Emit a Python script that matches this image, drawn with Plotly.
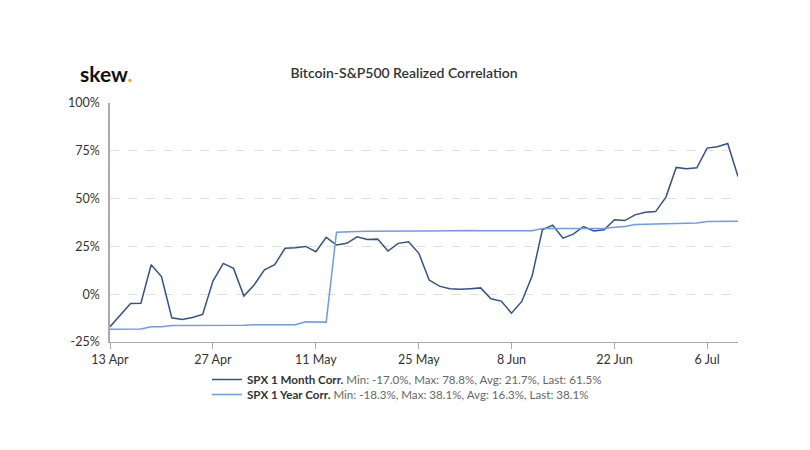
import plotly.graph_objects as go

dates = [
    "2020-04-13","2020-04-14","2020-04-15","2020-04-16","2020-04-17",
    "2020-04-20","2020-04-21","2020-04-22","2020-04-23","2020-04-24",
    "2020-04-27","2020-04-28","2020-04-29","2020-04-30","2020-05-01",
    "2020-05-04","2020-05-05","2020-05-06","2020-05-07","2020-05-08",
    "2020-05-11","2020-05-12","2020-05-13","2020-05-14","2020-05-15",
    "2020-05-18","2020-05-19","2020-05-20","2020-05-21","2020-05-22",
    "2020-05-26","2020-05-27","2020-05-28","2020-05-29",
    "2020-06-01","2020-06-02","2020-06-03","2020-06-04","2020-06-05",
    "2020-06-08","2020-06-09","2020-06-10","2020-06-11","2020-06-12",
    "2020-06-15","2020-06-16","2020-06-17","2020-06-18","2020-06-19",
    "2020-06-22","2020-06-23","2020-06-24","2020-06-25","2020-06-26",
    "2020-06-29","2020-06-30","2020-07-01","2020-07-02",
    "2020-07-06","2020-07-07","2020-07-08","2020-07-09",
]

month_corr = [
    -17.0, -11.0, -4.9, -4.7, 15.4, 9.2, -12.3, -13.2, -12.2, -10.6,
    6.9, 16.1, 13.5, -1.0, 4.8, 12.8, 15.4, 24.0, 24.3, 25.0,
    22.2, 29.7, 25.7, 26.6, 30.0, 28.6, 28.8, 22.6, 26.6, 27.4,
    21.4, 7.4, 4.2, 2.8, 2.6, 2.9, 3.3, -2.4, -3.6, -9.9,
    -3.8, 9.5, 33.7, 36.1, 29.3, 31.4, 35.4, 33.1, 33.7, 38.9,
    38.5, 41.5, 42.9, 43.2, 50.8, 66.3, 65.6, 66.1, 76.4, 77.1,
    78.8, 61.5,
]

year_corr = [
    -18.3, -18.3, -18.2, -18.2, -17.0, -17.0, -16.4, -16.4, -16.4, -16.1,
    -16.1, -16.1, -16.1, -16.3, -16.0, -16.0, -16.0, -16.0, -16.0, -14.4,
    -14.6, -14.6, 32.4, 32.7, 32.8, 32.9, 33.0, 33.0, 33.1, 33.1,
    33.1, 33.1, 33.2, 33.3, 33.5, 33.3, 33.2, 33.2, 33.1, 33.1,
    33.1, 33.2, 34.4, 34.4, 34.4, 34.4, 34.4, 34.4, 34.4, 35.0,
    35.4, 36.5, 36.6, 36.8, 36.9, 37.1, 37.2, 37.3, 38.0, 38.0,
    38.1, 38.1,
]

tick_vals = ["2020-04-13", "2020-04-27", "2020-05-11", "2020-05-26",
             "2020-06-08", "2020-06-22", "2020-07-06"]
tick_text = ["13 Apr", "27 Apr", "11 May", "25 May", "8 Jun", "22 Jun", "6 Jul"]

y_ticks = [-25, 0, 25, 50, 75, 100]
y_tick_text = ["-25%", "0%", "25%", "50%", "75%", "100%"]

legend_month = "<b>SPX 1 Month Corr.</b> <span style='color:#666666'>Min: -17.0%, Max: 78.8%, Avg: 21.7%, Last: 61.5%</span>"
legend_year = "<b>SPX 1 Year Corr.</b> <span style='color:#666666'>Min: -18.3%, Max: 38.1%, Avg: 16.3%, Last: 38.1%</span>"

fig = go.Figure()
fig.add_trace(go.Scatter(
    x=dates, y=month_corr, mode="lines", name=legend_month,
    line=dict(color="#34508f", width=1.5), legend="legend",
))
fig.add_trace(go.Scatter(
    x=dates, y=year_corr, mode="lines", name=legend_year,
    line=dict(color="#6c9bef", width=1.5), legend="legend2",
))

PLOT_TOP, PLOT_BOTTOM, PLOT_LEFT, PLOT_RIGHT = 103, 342, 110, 738
H = PLOT_BOTTOM - PLOT_TOP
W = PLOT_RIGHT - PLOT_LEFT

legend_common = dict(xanchor="left", yanchor="top", orientation="v",
                     font=dict(size=11.6, color="#333333"),
                     bgcolor="rgba(0,0,0,0)", tracegroupgap=0, itemwidth=30)

fig.update_layout(
    width=810, height=450,
    margin=dict(l=102, r=80, t=95, b=116),
    paper_bgcolor="white", plot_bgcolor="white",
    font=dict(family="Lato, 'Open Sans', sans-serif", size=12, color="#333333"),
    title=dict(text="Bitcoin-S&P500 Realized Correlation", x=(404 - 8) / 810, xref="container",
               xanchor="center", y=1 - (73 - 8) / 450, yref="container", yanchor="middle",
               font=dict(family="Lato, sans-serif", size=14, color="#333333", weight=600)),
    showlegend=True,
    legend=dict(x=(207 - PLOT_LEFT) / W, y=-(365 - PLOT_BOTTOM) / H, **legend_common),
    legend2=dict(x=(207 - PLOT_LEFT) / W, y=-(380 - PLOT_BOTTOM) / H, **legend_common),
    annotations=[
        dict(text="skew<span style='color:#f5a623'>.</span>", xref="x domain", yref="y domain",
             x=(78 - PLOT_LEFT) / W, y=(PLOT_BOTTOM - 73) / H, xanchor="left", yanchor="middle",
             showarrow=False,
             font=dict(family="Lato, sans-serif", size=21, color="#111111", weight=700)),
    ],
)

fig.update_xaxes(
    type="category", tickvals=tick_vals, ticktext=tick_text,
    range=[0, len(dates) - 1],
    showline=True, linecolor="#aaaaaa", linewidth=1,
    ticks="outside", ticklen=6, tickcolor="#aaaaaa",
    showgrid=False, zeroline=False,
    tickfont=dict(size=12.5, color="#333333"),
)
fig.update_yaxes(
    range=[-25, 100], tickmode="array", tickvals=y_ticks, ticktext=y_tick_text,
    showline=True, linecolor="#aaaaaa", linewidth=1.5,
    showgrid=True, gridcolor="#e0e0e0", griddash="dash", gridwidth=1,
    zeroline=False, ticks="", ticklabelstandoff=6,
    tickfont=dict(size=12.5, color="#333333"),
)

fig.write_html("out.html")
